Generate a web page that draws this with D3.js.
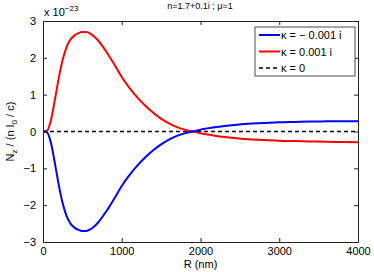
<!DOCTYPE html>
<html>
<head>
<meta charset="utf-8">
<script src="https://d3js.org/d3.v7.min.js"></script>
<style>
  html, body { margin: 0; padding: 0; background: #fff; }
  svg { display: block; font-family: "Liberation Sans", Arial, sans-serif; }
</style>
</head>
<body>
<svg id="chart" width="374" height="272"></svg>
<script>
// ── Data (values in units of 1e-23) ──
const radii = [0, 50, 100, 150, 200, 250, 300, 350, 400, 450, 500, 550, 600, 650, 700, 800, 900,
  1000, 1100, 1200, 1300, 1400, 1500, 1600, 1700, 1800, 1900, 2000, 2200, 2400, 2600, 2800,
  3000, 3200, 3400, 3600, 3800, 4000];
const redVals = [0, 0.02, 0.3, 0.85, 1.45, 1.95, 2.3, 2.5, 2.61, 2.67, 2.7, 2.7, 2.66, 2.58, 2.47,
  2.18, 1.84, 1.48, 1.18, 0.92, 0.7, 0.51, 0.35, 0.22, 0.12, 0.05, 0.0, -0.05, -0.12, -0.17,
  -0.21, -0.23, -0.25, -0.26, -0.27, -0.28, -0.285, -0.29];
const blueVals = [0, -0.02, -0.3, -0.85, -1.45, -1.95, -2.3, -2.5, -2.61, -2.67, -2.7, -2.7, -2.66,
  -2.58, -2.47, -2.18, -1.84, -1.48, -1.18, -0.92, -0.7, -0.51, -0.35, -0.22, -0.12, -0.05, 0.0,
  0.05, 0.12, 0.17, 0.21, 0.23, 0.25, 0.26, 0.27, 0.275, 0.28, 0.28];
const zeroVals = radii.map(() => 0);
const xTicks = [0, 1000, 2000, 3000, 4000];
const yTicks = [-3, -2, -1, 0, 1, 2, 3];

const series = [
  { label: 'κ = − 0.001 i', color: '#0000ff', vals: blueVals, dash: null },
  { label: 'κ = 0.001 i', color: '#ff0000', vals: redVals, dash: null },
  { label: 'κ = 0', color: '#000000', vals: zeroVals, dash: '4,3' },
];

const svg = d3.select('#chart');
const m = { left: 43, right: 358, top: 21, bottom: 242 };

const x = d3.scaleLinear().domain([0, 4000]).range([m.left, m.right]);
const y = d3.scaleLinear().domain([-3, 3]).range([m.bottom, m.top]);

// Curves
const line = d3.line().x((d, i) => x(radii[i])).y(d => y(d)).curve(d3.curveMonotoneX);
[series[2], series[1], series[0]].forEach(s => {
  svg.append('path').attr('d', line(s.vals)).attr('fill', 'none')
    .attr('stroke', s.color).attr('stroke-width', s.dash ? 1.5 : 2)
    .attr('stroke-dasharray', s.dash);
});

// Axes, ticks inside (MATLAB style)
const tickLen = 4;
const axisFont = 11;
const gx = svg.append('g').attr('transform', `translate(0,${m.bottom})`)
  .call(d3.axisBottom(x).tickValues(xTicks).tickSize(-tickLen).tickPadding(5).tickFormat(d3.format('d')));
const gxTop = svg.append('g').attr('transform', `translate(0,${m.top})`)
  .call(d3.axisTop(x).tickValues(xTicks).tickSize(-tickLen).tickFormat(''));
const gy = svg.append('g').attr('transform', `translate(${m.left},0)`)
  .call(d3.axisLeft(y).tickValues(yTicks).tickSize(-tickLen).tickPadding(7)
    .tickFormat(d => d < 0 ? '−' + Math.abs(d) : d));
const gyR = svg.append('g').attr('transform', `translate(${m.right},0)`)
  .call(d3.axisRight(y).tickValues(yTicks).tickSize(-tickLen).tickFormat(''));

[gx, gxTop, gy, gyR].forEach(g => {
  g.select('.domain').attr('stroke', '#222').attr('stroke-width', 1);
  g.selectAll('.tick line').attr('stroke', '#222');
  g.selectAll('text').attr('font-size', axisFont).attr('fill', '#000')
    .attr('font-family', '"Liberation Sans", Arial, sans-serif');
});

// Exponent label
const expo = svg.append('text').attr('x', m.left + 1).attr('y', 16)
  .attr('font-size', 11).attr('fill', '#000');
expo.append('tspan').text('x 10');
expo.append('tspan').attr('dy', -5).attr('font-size', 8).text('−23');

// Title
svg.append('text').attr('x', 200).attr('y', 9).attr('text-anchor', 'middle')
  .attr('font-size', 9).attr('fill', '#000').text('n=1.7+0.1i ; μ=1');

// X label
svg.append('text').attr('x', (m.left + m.right) / 2).attr('y', 268).attr('text-anchor', 'middle')
  .attr('font-size', 11).attr('fill', '#000').text('R (nm)');

// Y label
const yl = svg.append('text').attr('transform', `translate(14,${(m.top + m.bottom) / 2}) rotate(-90)`)
  .attr('text-anchor', 'middle').attr('font-size', 11).attr('fill', '#000');
yl.append('tspan').text('N');
yl.append('tspan').attr('dy', 3).attr('font-size', 8).text('z');
yl.append('tspan').attr('dy', -3).text(' / (n I');
yl.append('tspan').attr('dy', 3).attr('font-size', 8).text('0');
yl.append('tspan').attr('dy', -3).text(' / c)');

// Legend
const lg = svg.append('g').attr('transform', 'translate(255,27)');
lg.append('rect').attr('width', 100).attr('height', 49)
  .attr('fill', '#fff').attr('stroke', '#222').attr('stroke-width', 0.8);
series.forEach((s, i) => {
  const yy = 8 + i * 16.5;
  lg.append('line').attr('x1', 4).attr('x2', 25).attr('y1', yy).attr('y2', yy)
    .attr('stroke', s.color).attr('stroke-width', s.dash ? 1.5 : 2)
    .attr('stroke-dasharray', s.dash);
  lg.append('text').attr('x', 26).attr('y', yy + 4).attr('font-size', 11)
    .attr('fill', '#000').text(s.label);
});
</script>
</body>
</html>
